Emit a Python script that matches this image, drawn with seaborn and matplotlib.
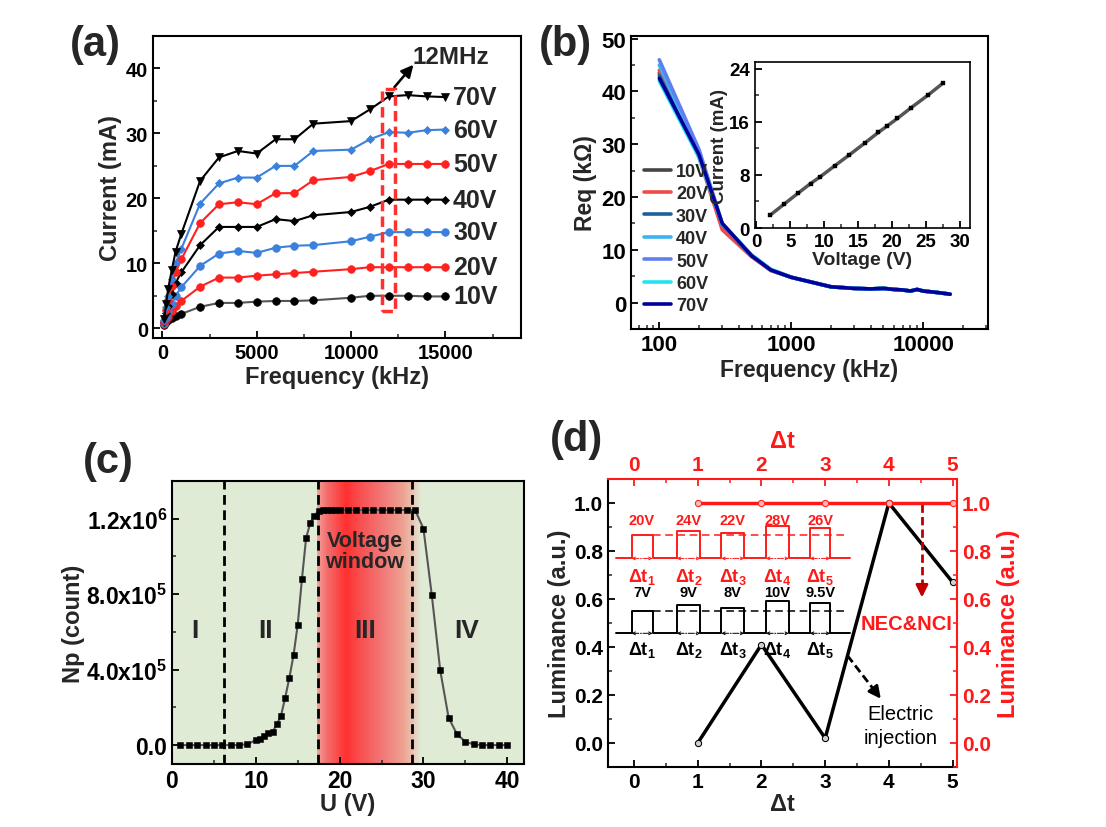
import numpy as np
import pandas as pd
import seaborn as sns
import matplotlib.pyplot as plt
from matplotlib.patches import Rectangle
from matplotlib.ticker import MultipleLocator, FixedLocator, NullFormatter, LogLocator, FixedFormatter
from matplotlib.colors import to_rgb

# ---------------- data ----------------
# (a) current vs frequency for several drive voltages
freq_a = [100, 200, 300, 500, 700, 1000, 2000, 3000, 4000, 5000, 6000, 7000, 8000,
          10000, 11000, 12000, 13000, 14000, 15000]
cur_10v = [0.5, 0.9, 1.2, 1.6, 1.9, 2.2, 3.3, 3.9, 3.9, 4.1, 4.2, 4.2, 4.3, 4.7, 5.0, 5.0, 5.0, 4.9, 4.9]
cur_20v = [0.7, 1.3, 1.8, 2.6, 3.4, 4.2, 6.4, 7.8, 7.8, 8.1, 8.3, 8.5, 8.7, 9.1, 9.4, 9.4, 9.4, 9.4, 9.4]
cur_30v = [0.8, 1.8, 2.6, 3.8, 5.0, 6.3, 9.6, 11.5, 11.9, 11.6, 12.4, 12.7, 12.8, 13.4, 14.1, 14.8, 14.8, 14.8, 14.8]
cur_40v = [1.0, 2.3, 3.5, 5.3, 7.0, 8.6, 12.8, 15.6, 15.6, 15.6, 16.8, 16.5, 17.4, 17.9, 18.7, 19.8, 19.8, 19.8, 19.8]
cur_50v = [1.1, 2.8, 4.3, 6.5, 8.6, 10.6, 16.2, 19.1, 19.4, 19.1, 20.8, 20.8, 22.8, 23.3, 24.2, 25.3, 25.3, 25.3, 25.3]
cur_60v = [1.2, 3.2, 5.0, 7.6, 10.0, 12.2, 19.2, 22.3, 23.2, 23.2, 25.0, 25.0, 27.3, 27.5, 29.1, 30.2, 30.1, 30.5, 30.6]
cur_70v = [1.4, 3.8, 6.0, 9.0, 11.8, 14.5, 22.7, 26.3, 27.3, 26.9, 29.1, 29.1, 31.5, 31.9, 33.7, 35.7, 35.9, 35.7, 35.6]

# (b) equivalent resistance vs frequency
freq_b = [100, 200, 300, 500, 700, 1000, 2000, 3000, 4000, 5000, 6000, 7000, 8000, 9000,
          10000, 12000, 14000, 16000]
req_10v = [43.5, 28.0, 14.6, 8.9, 6.1, 4.8, 3.0, 2.7, 2.6, 2.7, 2.5, 2.4, 2.2, 2.5, 2.2, 2.0, 1.8, 1.6]
req_20v = [44.0, 27.5, 13.8, 8.7, 6.1, 4.8, 3.0, 2.7, 2.6, 2.7, 2.5, 2.4, 2.2, 2.5, 2.2, 2.0, 1.8, 1.6]
req_30v = [43.0, 27.8, 14.8, 8.9, 6.2, 4.8, 3.0, 2.7, 2.6, 2.7, 2.5, 2.4, 2.2, 2.5, 2.2, 2.0, 1.8, 1.6]
req_40v = [45.0, 28.5, 14.9, 9.0, 6.3, 4.8, 3.0, 2.7, 2.6, 2.7, 2.5, 2.4, 2.2, 2.5, 2.2, 2.0, 1.8, 1.6]
req_50v = [46.0, 29.0, 15.0, 9.0, 6.2, 4.8, 3.0, 2.7, 2.6, 2.7, 2.5, 2.4, 2.2, 2.5, 2.2, 2.0, 1.8, 1.6]
req_60v = [42.0, 27.5, 14.9, 9.0, 6.3, 4.8, 3.0, 2.7, 2.6, 2.7, 2.5, 2.4, 2.2, 2.5, 2.2, 2.0, 1.8, 1.6]
req_70v = [42.5, 28.0, 15.0, 8.9, 6.2, 4.8, 3.0, 2.7, 2.6, 2.7, 2.5, 2.4, 2.2, 2.5, 2.2, 2.0, 1.8, 1.6]
volt_labels = ['10V', '20V', '30V', '40V', '50V', '60V', '70V']

# (b) inset I-V
inset_v = [2.0, 4.1, 6.1, 8.0, 9.4, 11.6, 13.7, 16.0, 18.0, 19.2, 20.8, 22.8, 25.3, 27.5]
inset_i = [1.9, 3.6, 5.2, 6.7, 7.7, 9.4, 11.0, 12.8, 14.4, 15.3, 16.5, 18.1, 20.0, 21.8]

# (c) Np vs U
u_c = [1, 2, 3, 4, 5, 6, 7, 8, 9, 10, 10.5, 11, 11.5, 12, 12.5, 13, 13.5, 14, 14.5, 15,
       15.5, 16, 16.5, 17, 17.5, 18, 18.5, 19, 19.5, 20, 21, 22, 23, 24, 25, 26, 27, 28, 29,
       30, 31, 32, 33, 34, 35, 36, 37, 38, 39, 40]
np_c = [0, 0, 0, 0, 0, 0, 0, 0, 5e3, 27e3, 34e3, 48e3, 63e3, 70e3, 110e3, 155e3, 250e3, 356e3,
        476e3, 638e3, 878e3, 1097e3, 1178e3, 1217e3, 1242e3, 1246e3, 1246e3, 1246e3, 1246e3,
        1246e3, 1246e3, 1246e3, 1246e3, 1246e3, 1246e3, 1246e3, 1246e3, 1246e3, 1246e3,
        1148e3, 794e3, 397e3, 146e3, 58e3, 18e3, 4e3, 0, 0, 0, 0]
region_bounds = [6.2, 17.4, 28.6]

# (d) luminance vs delta t
dt_black = [1, 2, 3, 4, 5]
lum_black = [0.0, 0.41, 0.02, 1.0, 0.67]
dt_red = [1, 2, 3, 4, 5]
lum_red = [1.0, 1.0, 1.0, 1.0, 1.0]
pulse_red_v = [20, 24, 22, 28, 26]
pulse_black_v = [7, 9, 8, 10, 9.5]

# ---------------- style ----------------
sns.set_style('ticks')
plt.rcParams['font.family'] = ['Liberation Sans', 'DejaVu Sans']
plt.rcParams['font.weight'] = 'bold'
plt.rcParams['axes.labelweight'] = 'bold'
plt.rcParams['mathtext.fontset'] = 'custom'
plt.rcParams['mathtext.rm'] = 'Liberation Sans:bold'
plt.rcParams['mathtext.bf'] = 'Liberation Sans:bold'
plt.rcParams['mathtext.it'] = 'Liberation Sans:bold'
plt.rcParams['mathtext.default'] = 'bf'
plt.rcParams['xtick.direction'] = 'in'
plt.rcParams['ytick.direction'] = 'in'
plt.rcParams['axes.linewidth'] = 1.5
plt.rcParams['axes.edgecolor'] = 'black'

LAB = 17


def style_ax(ax, size):
    ax.tick_params(which='major', length=5, width=1.3, labelsize=size, colors='black')
    ax.tick_params(which='minor', length=3, width=1.1)


fig = plt.figure(figsize=(11.06, 8.28), dpi=100)

# ---------------- (a) ----------------
ax = fig.add_axes([0.1383, 0.5906, 0.3327, 0.3647])
blue = '#3a80dc'
series_a = [(cur_10v, '#555555', 'black', 'o', '10V'),
            (cur_20v, '#ff2020', '#ff2020', 'o', '20V'),
            (cur_30v, blue, blue, 'o', '30V'),
            (cur_40v, 'black', 'black', 'D', '40V'),
            (cur_50v, '#ff2020', '#ff2020', 'o', '50V'),
            (cur_60v, blue, blue, 'D', '60V'),
            (cur_70v, 'black', 'black', 'v', '70V')]
for cur, lc, mc, mk, lab in series_a:
    sns.lineplot(x=freq_a, y=cur, ax=ax, color=lc, lw=1.5, marker=mk,
                 markersize=5.5 if mk != 'D' else 4.5, markerfacecolor=mc,
                 markeredgecolor=mc, markeredgewidth=0.5)
    ax.text(15400, cur[-1], lab, fontsize=18, fontweight='bold', va='center', ha='left')
ax.set_xlim(-500, 19000)
ax.set_ylim(-1.5, 45)
ax.xaxis.set_major_locator(MultipleLocator(5000))
ax.xaxis.set_minor_locator(MultipleLocator(2500))
ax.yaxis.set_major_locator(MultipleLocator(10))
ax.yaxis.set_minor_locator(MultipleLocator(5))
style_ax(ax, 14.5)
ax.set_xlabel('Frequency (kHz)', fontsize=LAB, labelpad=2)
ax.set_ylabel('Current (mA)', fontsize=LAB, labelpad=3)
ax.add_patch(Rectangle((11650, 2.6), 700, 34.3, fill=False, ec='#ff3030', lw=2.5,
                       ls=(0, (3, 1.5)), zorder=5))
ax.annotate('', xy=(13400, 40.9), xytext=(12200, 36.8),
            arrowprops=dict(arrowstyle='-|>', color='black', lw=1.8, mutation_scale=18))
ax.text(15300, 41.9, '12MHz', fontsize=17.5, fontweight='bold', ha='center', va='center')

# ---------------- (b) ----------------
ax = fig.add_axes([0.5705, 0.6014, 0.3228, 0.3539])
req_all = [req_10v, req_20v, req_30v, req_40v, req_50v, req_60v, req_70v]
df_b = pd.DataFrame({
    'freq': freq_b * len(volt_labels),
    'req': sum(req_all, []),
    'volt': np.repeat(volt_labels, len(freq_b)),
})
pal_b = {'10V': '#454545', '20V': '#f24a4a', '30V': '#1a5f9e', '40V': '#3cb2f0',
         '50V': '#5f7ff0', '60V': '#22e3f2', '70V': '#00009a'}
sns.lineplot(data=df_b, x='freq', y='req', hue='volt', palette=pal_b, lw=2.6, ax=ax)
ax.set_xscale('log')
ax.set_xlim(61, 31000)
ax.set_ylim(-5, 50.5)
ax.xaxis.set_major_locator(FixedLocator([100, 1000, 10000]))
ax.xaxis.set_major_formatter(FixedFormatter(['100', '1000', '10000']))
ax.xaxis.set_minor_locator(LogLocator(base=10, subs=np.arange(2, 10)))
ax.xaxis.set_minor_formatter(NullFormatter())
ax.yaxis.set_major_locator(MultipleLocator(10))
ax.yaxis.set_minor_locator(MultipleLocator(5))
style_ax(ax, 16)
ax.set_xlabel('Frequency (kHz)', fontsize=16.5, labelpad=2)
ax.set_ylabel('Req (kΩ)', fontsize=16.5, labelpad=3)
h, l = ax.get_legend_handles_labels()
ax.legend(h, l, loc='upper left', bbox_to_anchor=(0.0, 0.61), frameon=False,
          handlelength=1.5, handletextpad=0.3, labelspacing=0.3,
          borderpad=0.2, prop={'weight': 'bold', 'size': 13})

axi = fig.add_axes([0.6826, 0.7234, 0.1944, 0.2005])
sns.lineplot(x=inset_v, y=inset_i, ax=axi, color='#555555', lw=2.5)
sns.scatterplot(x=inset_v, y=inset_i, ax=axi, color='black', marker='s', s=10,
                edgecolor='black', zorder=3)
axi.set_xlim(-0.2, 31.5)
axi.set_ylim(0, 25)
axi.xaxis.set_major_locator(MultipleLocator(5))
axi.yaxis.set_major_locator(MultipleLocator(8))
axi.yaxis.set_minor_locator(MultipleLocator(4))
axi.xaxis.set_minor_locator(MultipleLocator(2.5))
style_ax(axi, 13.5)
for s in axi.spines.values():
    s.set_linewidth(1.2)
axi.set_xlabel('Voltage (V)', fontsize=14, labelpad=1)
axi.set_ylabel('Current (mA)', fontsize=13.5, labelpad=1)

# ---------------- (c) ----------------
ax = fig.add_axes([0.1555, 0.0761, 0.3183, 0.3418])
ax.set_facecolor('#dfebd5')
stops_x = [17.35, 18.5, 20.8, 22.5, 25.0, 27.5, 28.6, 29.7]
stops_c = ['#f3a29c', '#f56e6e', '#ff3030', '#f95050', '#f27676', '#eea090', '#eabfae', '#dfebd5']
gx = np.linspace(stops_x[0], stops_x[-1], 400)
rgb = np.array([to_rgb(c) for c in stops_c])
grad = np.stack([np.interp(gx, stops_x, rgb[:, k]) for k in range(3)], axis=-1)[None, :, :]
ax.imshow(grad, extent=[stops_x[0], stops_x[-1], -1e5, 1.4e6], aspect='auto',
          interpolation='bilinear', zorder=0.5)
for b in region_bounds:
    ax.axvline(b, color='black', lw=2, ls=(0, (3.5, 2)), zorder=2)
sns.lineplot(x=u_c, y=np_c, ax=ax, color='#555555', lw=1.5, zorder=3)
sns.scatterplot(x=u_c, y=np_c, ax=ax, color='black', marker='s', s=22,
                edgecolor='black', zorder=4)
ax.set_xlim(0, 42)
ax.set_ylim(-1e5, 1.4e6)
ax.xaxis.set_major_locator(MultipleLocator(10))
ax.xaxis.set_minor_locator(MultipleLocator(5))
ax.yaxis.set_major_locator(FixedLocator([0, 4e5, 8e5, 1.2e6]))
ax.yaxis.set_major_formatter(FixedFormatter(['0.0', '4.0x10$^5$', '8.0x10$^5$', '1.2x10$^6$']))
ax.yaxis.set_minor_locator(MultipleLocator(2e5))
style_ax(ax, 16.5)
ax.set_xlabel('U (V)', fontsize=LAB, labelpad=0)
ax.set_ylabel('Np (count)', fontsize=LAB, labelpad=1)
for xt, t in zip([2.7, 11.1, 23.0, 35.1], ['I', 'II', 'III', 'IV']):
    ax.text(xt, 6.1e5, t, fontsize=19, fontweight='bold', ha='center', va='center')
ax.text(23.0, 1.03e6, 'Voltage\nwindow', fontsize=15.5, fontweight='bold', ha='center',
        va='center', linespacing=1.0)

# ---------------- (d) ----------------
ax = fig.add_axes([0.5497, 0.0725, 0.3156, 0.3478])
sns.lineplot(x=dt_black, y=lum_black, ax=ax, color='black', lw=2.5, marker='o',
             markersize=4.5, markerfacecolor='#d0d0d0', markeredgecolor='black')
ax.set_xlim(-0.41, 5.07)
ax.set_ylim(-0.1, 1.1)
ax.xaxis.set_major_locator(MultipleLocator(1))
ax.xaxis.set_minor_locator(MultipleLocator(0.5))
ax.yaxis.set_major_locator(MultipleLocator(0.2))
ax.yaxis.set_minor_locator(MultipleLocator(0.1))
ax.yaxis.set_major_formatter(plt.FormatStrFormatter('%.1f'))
style_ax(ax, 15)
ax.spines['top'].set_visible(False)
ax.spines['right'].set_visible(False)
ax.set_xlabel('Δt', fontsize=LAB, labelpad=1)
ax.set_ylabel('Luminance (a.u.)', fontsize=LAB, labelpad=2)

axr = ax.twinx()
sns.lineplot(x=dt_red, y=lum_red, ax=axr, color='#ff1a1a', lw=2.5, marker='o',
             markersize=4.5, markerfacecolor='#ffb5b5', markeredgecolor='#ff1a1a')
axr.set_ylim(-0.1, 1.1)
axr.yaxis.set_major_locator(MultipleLocator(0.2))
axr.yaxis.set_minor_locator(MultipleLocator(0.1))
axr.yaxis.set_major_formatter(plt.FormatStrFormatter('%.1f'))
axr.tick_params(which='major', length=5, width=1.3, labelsize=15, colors='#ff1a1a')
axr.tick_params(which='minor', length=3, width=1.1, colors='#ff1a1a')
for k in ['left', 'top', 'bottom']:
    axr.spines[k].set_visible(False)
axr.spines['right'].set_color('#ff1a1a')
axr.set_ylabel('Luminance (a.u.)', fontsize=LAB, color='#ff1a1a', labelpad=4)

axt = ax.twiny()
axt.set_xlim(-0.41, 5.07)
axt.xaxis.set_major_locator(MultipleLocator(1))
axt.xaxis.set_minor_locator(MultipleLocator(0.5))
axt.tick_params(which='major', length=5, width=1.3, labelsize=15, colors='#ff1a1a')
axt.tick_params(which='minor', length=3, width=1.1, colors='#ff1a1a')
for k in ['left', 'right', 'bottom']:
    axt.spines[k].set_visible(False)
axt.spines['top'].set_color('#ff1a1a')
axt.set_xlabel('Δt', fontsize=LAB, color='#ff1a1a', labelpad=6)

# pulse sketches
p_start = [-0.04, 0.67, 1.37, 2.07, 2.76]
p_width = [0.33, 0.37, 0.36, 0.36, 0.32]
trains = [(pulse_red_v, 0.769, 0.0048, '#ff1a1a', 0.93, 0.697),
          (pulse_black_v, 0.457, 0.0133, 'black', 0.63, 0.392)]
for volts, base, scale, col, vy, dty in trains:
    xs = [-0.28]
    ys = [base]
    for x0, w, v in zip(p_start, p_width, volts):
        top = base + v * scale
        xs += [x0, x0, x0 + w, x0 + w]
        ys += [base, top, top, base]
    xs.append(3.39)
    ys.append(base)
    ax.plot(xs, ys, color=col, lw=1.4, zorder=3)
    ax.plot([p_start[0] + p_width[0], 3.3], [base + volts[0] * scale] * 2, color=col,
            lw=1.1, ls=(0, (5, 3)), zorder=3)
    for i, (x0, w, v) in enumerate(zip(p_start, p_width, volts)):
        ax.annotate('', xy=(x0 + w, base), xytext=(x0, base),
                    arrowprops=dict(arrowstyle='<->', color=col, lw=0.7, ls='-.',
                                    mutation_scale=5, shrinkA=0, shrinkB=0))
        ax.text(x0 + w / 2, vy, f'{v:g}V', color=col, fontsize=10.5, fontweight='bold',
                ha='center', va='center')
        ax.text(x0 + w / 2, dty, f'Δt$_{i + 1}$', color=col, fontsize=13,
                fontweight='bold', ha='center', va='center')

# arrows and notes
ax.plot([4.52, 4.52], [0.995, 0.66], color='#c00000', lw=2, ls=(0, (3, 1.5)), zorder=4)
ax.annotate('', xy=(4.52, 0.595), xytext=(4.52, 0.67),
            arrowprops=dict(arrowstyle='-|>', color='#c00000', lw=2, mutation_scale=18))
ax.text(4.27, 0.496, 'NEC&NCI', color='#ff1a1a', fontsize=14.5, fontweight='bold',
        ha='center', va='center')
ax.plot([3.35, 3.8], [0.364, 0.21], color='black', lw=2, ls=(0, (3, 1.5)), zorder=4)
ax.annotate('', xy=(3.9, 0.175), xytext=(3.78, 0.217),
            arrowprops=dict(arrowstyle='-|>', color='black', lw=2, mutation_scale=18))
ax.text(4.18, 0.073, 'Electric\ninjection', color='black', fontsize=14.5, fontweight='normal',
        ha='center', va='center', linespacing=1.35)

# panel tags
for x, y, t in [(0.086, 0.946, '(a)'), (0.511, 0.946, '(b)'), (0.098, 0.442, '(c)'),
                (0.521, 0.469, '(d)')]:
    fig.text(x, y, t, fontsize=30, fontweight='bold', ha='center', va='center')

fig.savefig('out.png', dpi=100)
